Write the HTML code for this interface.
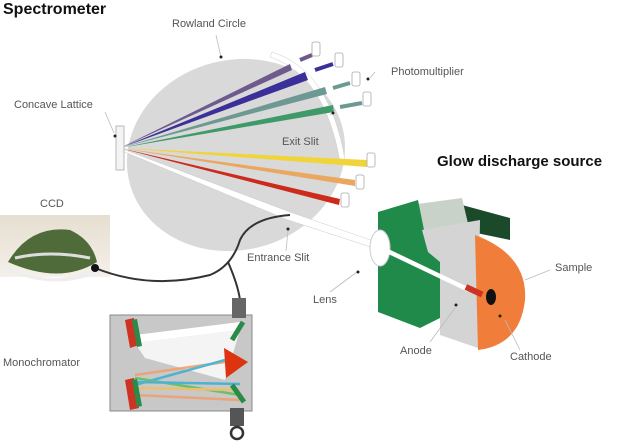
<!DOCTYPE html>
<html><head><meta charset="utf-8"><style>
html,body{margin:0;padding:0;background:#fff}
svg{display:block}
text{font-family:"Liberation Sans",sans-serif;fill:#555;font-size:11px}
</style></head><body>
<svg width="636" height="444" viewBox="0 0 636 444">
<defs>
<linearGradient id="ccdbg" x1="0" y1="0" x2="0" y2="1"><stop offset="0" stop-color="#e6ded0"/><stop offset="1" stop-color="#f4f0ea"/></linearGradient>
</defs>
<!-- Rowland circle -->
<ellipse cx="236" cy="155" rx="110" ry="95" transform="rotate(-15 236 155)" fill="#d9d9d9"/>
<!-- exit slit arc -->
<path d="M272 52 Q330 70 345 160 L340 162 Q325 75 270 57 Z" fill="#fff" stroke="#ccc" stroke-width="0.5"/>
<!-- white beam -->
<polygon points="120,148 290,212 382,244 380,250 288,220 120,150" fill="#fff" stroke="#ccc" stroke-width="0.5"/>
<!-- rays -->
<g stroke-linecap="butt">
<polygon points="120,148 290,64 292,70" fill="#6e5a8c"/>
<polygon points="120,148 305,72 308,80" fill="#3b2f9a"/>
<polygon points="120,148 325,87 327,94" fill="#6c9a92"/>
<polygon points="120,148 333,105 334,112" fill="#3f9a6a"/>
<polygon points="120,148 367,160 367,167" fill="#f0d53a"/>
<polygon points="120,148 355,180 355,186" fill="#eaa760"/>
<polygon points="120,148 340,199 339,205" fill="#cc2a1a"/>
<line x1="300" y1="60" x2="312" y2="55" stroke="#6e5a8c" stroke-width="4"/>
<line x1="315" y1="70" x2="333" y2="64" stroke="#3b2f9a" stroke-width="4"/>
<line x1="333" y1="88" x2="350" y2="83" stroke="#6c9a92" stroke-width="4"/>
<line x1="340" y1="107" x2="362" y2="103" stroke="#6c9a92" stroke-width="4"/>
</g>
<!-- photomultipliers -->
<g fill="#fff" stroke="#aaa" stroke-width="0.8">
<rect x="312" y="42" width="8" height="14" rx="2"/>
<rect x="335" y="53" width="8" height="14" rx="2"/>
<rect x="352" y="72" width="8" height="14" rx="2"/>
<rect x="363" y="92" width="8" height="14" rx="2"/>
<rect x="367" y="153" width="8" height="14" rx="2"/>
<rect x="356" y="175" width="8" height="14" rx="2"/>
<rect x="341" y="193" width="8" height="14" rx="2"/>
<rect x="116" y="126" width="8" height="44" fill="#f4f4f4"/>
</g>
<!-- CCD -->
<rect x="0" y="215" width="110" height="62" fill="url(#ccdbg)"/>
<path d="M8 262 Q30 225 70 230 Q92 240 97 262 Q60 285 8 262Z" fill="#4f6b3a"/>
<path d="M15 258 Q50 250 90 258" stroke="#ddd" stroke-width="3" fill="none"/>
<path d="M6 266 Q55 290 100 266 L100 272 Q55 292 6 270Z" fill="#eee"/>
<!-- cable -->
<path d="M95 268 Q150 290 210 275 Q232 266 240 240 Q250 218 290 215" stroke="#333" stroke-width="2" fill="none"/>
<path d="M228 262 Q238 285 240 300" stroke="#333" stroke-width="2" fill="none"/>
<circle cx="95" cy="268" r="4" fill="#111"/>
<!-- Monochromator -->
<rect x="110" y="315" width="142" height="96" fill="#c8c8c8" stroke="#888" stroke-width="1"/>
<rect x="232" y="298" width="14" height="20" fill="#666"/>
<rect x="230" y="408" width="14" height="18" fill="#555"/>
<circle cx="237" cy="433" r="6" fill="#fff" stroke="#333" stroke-width="2.5"/>
<polygon points="135,335 240,322 240,330 135,343" fill="#fff"/>
<polygon points="135,343 240,330 225,380 145,358" fill="#fff" opacity="0.8"/>
<g stroke-width="2.5" opacity="0.9">
<line x1="135" y1="375" x2="225" y2="362" stroke="#f0a070"/>
<line x1="135" y1="385" x2="225" y2="360" stroke="#40b0d0"/>
<line x1="135" y1="378" x2="240" y2="395" stroke="#60c060"/>
<line x1="135" y1="388" x2="240" y2="390" stroke="#f0c060"/>
<line x1="135" y1="395" x2="240" y2="400" stroke="#f0a070"/>
<line x1="135" y1="382" x2="240" y2="384" stroke="#40b0d0"/>
</g>
<polygon points="125,320 134,318 139,345 130,348" fill="#cc3322"/>
<polygon points="132,320 137,319 142,346 137,347" fill="#2a8a4a"/>
<polygon points="125,380 134,378 139,408 130,410" fill="#cc3322"/>
<polygon points="132,380 137,379 142,406 137,407" fill="#2a8a4a"/>
<polygon points="224,348 248,362 226,378" fill="#dd3311"/>
<line x1="243" y1="322" x2="232" y2="340" stroke="#2a8a4a" stroke-width="5"/>
<line x1="232" y1="385" x2="244" y2="402" stroke="#2a8a4a" stroke-width="5"/>
<!-- Glow discharge -->
<polygon points="462,205 510,218 510,240 462,230" fill="#1a4a2a"/>
<polygon points="410,205 462,198 470,232 425,240" fill="#c8d2c8"/>
<polygon points="378,212 418,200 428,250 440,260 440,318 420,328 378,312" fill="#1f8a4a"/>
<polygon points="422,230 480,220 478,348 440,335 440,262 428,252" fill="#d4d4d4"/>
<path d="M475 235 Q528 255 525 300 Q520 345 478 350 Z" fill="#f07e3a"/>
<ellipse cx="380" cy="248" rx="10" ry="18" fill="#fff" stroke="#ccc"/>
<polygon points="380,245 470,288 468,292 380,250" fill="#fff"/>
<rect x="465" y="286" width="18" height="6" fill="#cc3322" transform="rotate(25 470 290)"/>
<ellipse cx="491" cy="297" rx="5" ry="8" fill="#111"/>
<!-- labels -->
<text x="3" y="14" style="font-size:16px;font-weight:bold;fill:#111">Spectrometer</text>
<text x="172" y="27">Rowland Circle</text>
<text x="391" y="75">Photomultiplier</text>
<text x="14" y="108">Concave Lattice</text>
<text x="282" y="145">Exit Slit</text>
<text x="437" y="166" style="font-size:15px;font-weight:bold;fill:#111">Glow discharge source</text>
<text x="40" y="207">CCD</text>
<text x="247" y="261">Entrance Slit</text>
<text x="313" y="303">Lens</text>
<text x="555" y="271">Sample</text>
<text x="3" y="366">Monochromator</text>
<text x="400" y="354">Anode</text>
<text x="510" y="360">Cathode</text>
<!-- leaders -->
<g stroke="#bbb" stroke-width="0.8">
<line x1="216" y1="35" x2="221" y2="57"/><line x1="375" y1="72" x2="370" y2="78"/>
<line x1="105" y1="112" x2="114" y2="133"/><line x1="330" y1="115" x2="335" y2="110"/>
<line x1="286" y1="251" x2="288" y2="230"/><line x1="330" y1="292" x2="357" y2="272"/>
<line x1="550" y1="270" x2="525" y2="280"/><line x1="430" y1="342" x2="455" y2="308"/>
<line x1="520" y1="350" x2="505" y2="320"/>
</g>
<g fill="#222"><circle cx="221" cy="57" r="1.5"/><circle cx="368" cy="79" r="1.5"/><circle cx="115" cy="136" r="1.5"/><circle cx="333" cy="113" r="1.5"/><circle cx="288" cy="229" r="1.5"/><circle cx="358" cy="272" r="1.5"/><circle cx="456" cy="305" r="1.5"/><circle cx="500" cy="316" r="1.5"/></g>
</svg>
</body></html>
